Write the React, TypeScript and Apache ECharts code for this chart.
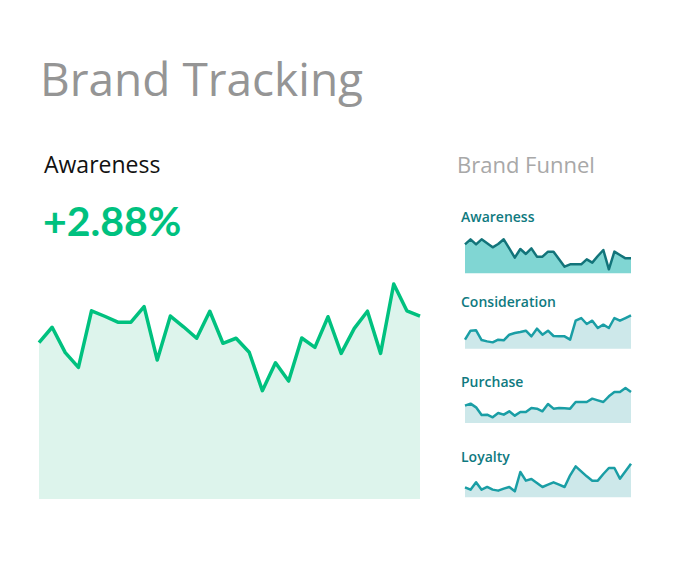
import React, { useEffect, useRef } from "react";
import * as echarts from "echarts";

const mainValues = [68.3, 75.0, 63.9, 57.5, 82.2, 79.8, 77.2, 77.2, 84.0, 60.7, 79.9, 75.2, 70.2, 82.0, 68.0, 70.2, 64.1, 47.3, 59.5, 51.5, 70.3, 66.2, 79.6, 63.6, 74.5, 82.0, 63.6, 93.9, 82.2, 79.9];
const awarenessSpark = [87, 102, 87, 102, 90, 78, 88, 102, 75, 47, 73, 58, 75, 50, 50, 65, 65, 42, 20, 27, 27, 27, 42, 32, 52, 70, 12, 65, 55, 45, 45];
const considerationSpark = [27, 54, 55, 26, 22, 19, 27, 25, 42, 47, 50, 54, 37, 60, 42, 54, 38, 37, 37, 27, 84, 92, 74, 84, 62, 72, 62, 92, 84, 92, 100];
const purchaseSpark = [52, 58, 47, 24, 25, 17, 30, 25, 35, 22, 33, 33, 45, 43, 35, 57, 43, 45, 44, 43, 63, 63, 63, 73, 68, 63, 80, 93, 93, 105, 93];
const loyaltySpark = [30, 23, 45, 23, 31, 23, 20, 26, 31, 18, 76, 50, 55, 43, 31, 38, 45, 38, 31, 66, 93, 78, 63, 50, 50, 70, 88, 88, 56, 78, 101];

const FONT = "'Open Sans', Lato, sans-serif";
const BOLD_FONT = "Lato, 'Open Sans', sans-serif";

export default function App() {
  const ref = useRef<HTMLDivElement>(null);
  useEffect(() => {
    if (!ref.current) return;
    const chart = echarts.init(ref.current, undefined, { renderer: "svg" });

    const sparks = [
      { name: "Awareness", data: awarenessSpark, top: 230, height: 43.3, max: 130, line: "#12747a", area: "#80d6d3", labelY: 209 },
      { name: "Consideration", data: considerationSpark, top: 308, height: 40.7, max: 122, line: "#1a9ea5", area: "#cde8ea", labelY: 294 },
      { name: "Purchase", data: purchaseSpark, top: 383, height: 40, max: 120, line: "#1a9ea5", area: "#cde8ea", labelY: 374 },
      { name: "Loyalty", data: loyaltySpark, top: 458, height: 39.3, max: 118, line: "#1a9ea5", area: "#cde8ea", labelY: 449 },
    ];

    const grids: any[] = [{ left: 39, top: 270, width: 381, height: 229 }];
    const xAxes: any[] = [{ type: "category", gridIndex: 0, boundaryGap: false, show: false, data: mainValues.map((_, i) => i) }];
    const yAxes: any[] = [{ type: "value", gridIndex: 0, min: 0, max: 100, show: false }];
    const series: any[] = [{
      type: "line", xAxisIndex: 0, yAxisIndex: 0, data: mainValues, symbol: "none",
      lineStyle: { color: "#00c17f", width: 3.5, join: "round" },
      areaStyle: { color: "#ddf4ec", opacity: 1 },
    }];
    sparks.forEach((s, k) => {
      const gi = k + 1;
      grids.push({ left: 465, top: s.top, width: 166, height: s.height });
      xAxes.push({ type: "category", gridIndex: gi, boundaryGap: false, show: false, data: s.data.map((_, i) => i) });
      yAxes.push({ type: "value", gridIndex: gi, min: 0, max: s.max, show: false });
      series.push({
        type: "line", xAxisIndex: gi, yAxisIndex: gi, data: s.data, symbol: "none",
        lineStyle: { color: s.line, width: 2.5, join: "round" },
        areaStyle: { color: s.area, opacity: 1 },
      });
    });

    const texts: any[] = [
      { type: "text", left: 40, top: 55, style: { text: "Brand Tracking", font: `400 46px ${FONT}`, fill: "#959595" } },
      { type: "text", left: 44, top: 152, style: { text: "Awareness", font: `400 23px ${FONT}`, fill: "#111111" } },
      { type: "text", left: 43, top: 200, style: { text: "+2.88%", font: `700 41px ${BOLD_FONT}`, fill: "#00c17f" } },
      { type: "text", left: 457, top: 153, style: { text: "Brand Funnel", font: `400 22px ${FONT}`, fill: "#a8a8a8" } },
      ...sparks.map((s) => ({ type: "text", left: 461, top: s.labelY, style: { text: s.name, font: `600 14px ${FONT}`, fill: "#0f7a80" } })),
    ];

    chart.setOption({
      animation: false,
      backgroundColor: "#ffffff",
      grid: grids,
      xAxis: xAxes,
      yAxis: yAxes,
      series,
      graphic: texts,
    });
    return () => chart.dispose();
  }, []);
  return <div ref={ref} style={{ position: "absolute", left: 0, top: 0, width: 677, height: 578 }} />;
}
